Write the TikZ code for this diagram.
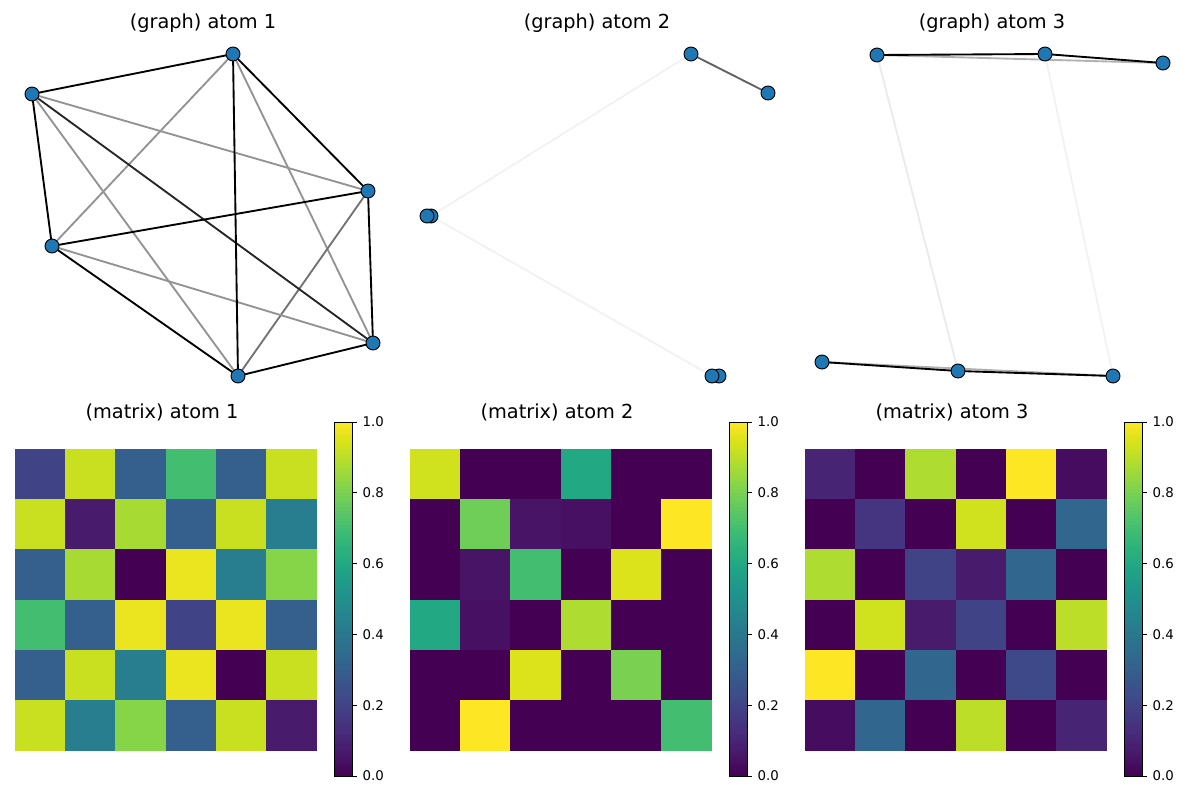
\documentclass[tikz,border=0pt]{standalone}
\usepackage{fontspec}
\setmainfont{DejaVu Sans}
\usepackage{pgfplots}
\pgfplotsset{compat=1.18}
\begin{document}
\begin{tikzpicture}[x=0.75pt,y=-0.75pt,
  dot/.style={circle,fill={rgb,255:red,31;green,119;blue,180},draw=black,line width=0.7pt,inner sep=0pt,minimum size=10.5pt},
  ttl/.style={font=\fontsize{14.5}{17}\selectfont},
  tk/.style={font=\fontsize{10}{12}\selectfont,anchor=west},
  ed/.style={line width=1.4pt}]
\useasboundingbox (0,0) rectangle (1200,800);
% ---- graph 1
\node[ttl] (t1) at (203,23) {(graph) atom 1};
\coordinate (A) at (233,54); \coordinate (B) at (32,94); \coordinate (C) at (368,191);
\coordinate (D) at (52,246); \coordinate (E) at (373,343); \coordinate (F) at (238,376);
\foreach \p/\q/\c in {A/D/gray!85,A/E/gray!85,B/C/gray!85,B/F/gray!85,C/F/gray!110,D/E/gray!85,B/E/black!85,
  A/B/black,A/C/black,A/F/black,B/D/black,C/D/black,C/E/black,D/F/black,E/F/black}
  \draw[ed,draw=\c] (\p) -- (\q);
\foreach \p in {A,B,C,D,E,F} \node[dot] (n\p) at (\p) {};
% ---- graph 2
\node[ttl] (t2) at (597,23) {(graph) atom 2};
\coordinate (P) at (691,54); \coordinate (Q) at (768,93); \coordinate (R1) at (427,216);
\coordinate (R2) at (431,216); \coordinate (S1) at (712,376); \coordinate (S2) at (719,376);
\draw[ed,draw=black!62] (P) -- (Q);
\draw[ed,draw=black!5] (P) -- (R2);
\draw[ed,draw=black!5] (R2) -- (S1);
\foreach \p in {P,Q,R2,R1,S2,S1} \node[dot] (n\p) at (\p) {};
% ---- graph 3
\node[ttl] (t3) at (992,23) {(graph) atom 3};
\coordinate (U1) at (877,55); \coordinate (U2) at (1045,54); \coordinate (U3) at (1163,63);
\coordinate (L1) at (822,362); \coordinate (L2) at (958,371); \coordinate (L3) at (1113,376);
\draw[ed,draw=black!8] (U1) -- (L2);
\draw[ed,draw=black!5] (U2) -- (L3);
\draw[ed,draw=black!30] (U1) -- (U3);
\draw[ed,draw=black!30] (L1) -- (L3);
\draw[ed] (U1) -- (U2) -- (U3);
\draw[ed] (L1) -- (L2) -- (L3);
\foreach \p in {U1,U2,U3,L1,L2,L3} \node[dot] (n\p) at (\p) {};
% ---- matrices
\foreach \mx/\cb/\tx/\name/\data in {
 15/334/162/1/{{0.2,0.92,0.3,0.7,0.3,0.92},{0.92,0.07,0.87,0.3,0.92,0.42},{0.3,0.87,0.0,0.97,0.42,0.82},{0.7,0.3,0.97,0.2,0.97,0.3},{0.3,0.92,0.42,0.97,0.0,0.92},{0.92,0.42,0.82,0.3,0.92,0.07}},
 410/729/557/2/{{0.93,0,0,0.6,0,0},{0,0.78,0.05,0.04,0,1.0},{0,0.05,0.7,0,0.95,0},{0.6,0.04,0,0.88,0,0},{0,0,0.95,0,0.8,0},{0,1.0,0,0,0,0.7}},
 805/1124/952/3/{{0.1,0,0.88,0,1.0,0.03},{0,0.15,0,0.93,0,0.33},{0.88,0,0.2,0.07,0.33,0},{0,0.93,0.07,0.2,0,0.9},{1.0,0,0.33,0,0.22,0},{0.03,0.33,0,0.9,0,0.1}}}{
  \node[ttl] (mt\name) at (\tx,412) {(matrix) atom \name};
  \foreach \row [count=\i] in \data {
    \foreach \v [count=\j] in \row {
      \pgfmathsetmacro{\cv}{\v*1000}
      \fill[color of colormap={\cv\space of viridis}] ({\mx+(\j-1)*50.2},{449+(\i-1)*50.2}) rectangle ++(50.6,50.6);
    }
  }
  \foreach \k in {0,...,99} {
    \pgfmathsetmacro{\cv}{(\k+0.5)*10}
    \fill[color of colormap={\cv\space of viridis}] (\cb,{776-\k*3.54}) rectangle ++(18,-3.64);
  }
  \draw[line width=0.6pt] (\cb,422) rectangle ++(18,354);
  \foreach \t/\l in {0/0.0,0.2/0.2,0.4/0.4,0.6/0.6,0.8/0.8,1/1.0} {
    \draw[line width=0.6pt] ({\cb+18},{776-\t*354}) -- ++(5,0);
    \node[tk] (tk\name\l) at ({\cb+24},{776-\t*354}) {\l};
  }
}
\end{tikzpicture}
\end{document}
